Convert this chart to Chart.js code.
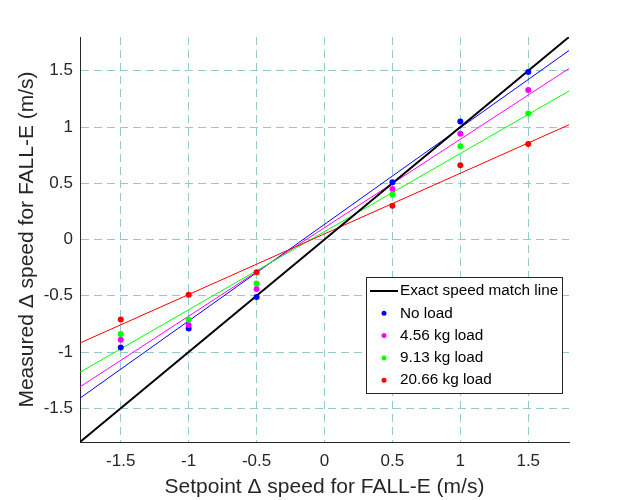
<!DOCTYPE html>
<html>
<head>
<meta charset="utf-8">
<script src="https://cdn.jsdelivr.net/npm/chart.js@4"></script>
<style>
html, body { margin: 0; padding: 0; background: #fff; }
</style>
</head>
<body>
<canvas id="c" width="629" height="500"></canvas>
<script>
// measured points, one value per setpoint
const setpoints = [-1.5, -1, -0.5, 0.5, 1, 1.5];
const noLoad   = [-0.96, -0.79, -0.51, 0.51, 1.05, 1.49];
const load456  = [-0.89, -0.76, -0.44, 0.45, 0.94, 1.33];
const load913  = [-0.84, -0.71, -0.39, 0.40, 0.83, 1.12];
const load2066 = [-0.71, -0.49, -0.29, 0.30, 0.66, 0.85];

// fitted lines, read at the plot edges
const lineEnds  = [-1.8, 1.8];
const exactLine = [-1.8, 1.8];
const fitNoLoad   = [-1.41, 1.68];
const fit456      = [-1.31, 1.52];
const fit913      = [-1.18, 1.32];
const fit2066     = [-0.92, 1.02];

const tickVals = [-1.5, -1, -0.5, 0, 0.5, 1, 1.5];
const exactName = "Exact speed match line";
const seriesNames  = ["No load", "4.56 kg load", "9.13 kg load", "20.66 kg load"];
const seriesColors = ["#0000ff", "#ff00ff", "#00ff00", "#ff0000"];

const pts = (xs, ys) => xs.map((x, i) => ({ x: x, y: ys[i] }));

const pointSets = [noLoad, load456, load913, load2066];
const fitSets   = [fitNoLoad, fit456, fit913, fit2066];

const datasets = [];
fitSets.forEach((f, i) => {
    datasets.push({
        label: "fit " + seriesNames[i],
        data: pts(lineEnds, f),
        showLine: true,
        borderColor: seriesColors[i],
        borderWidth: 1,
        pointRadius: 0,
        order: 10 - i
    });
});
datasets.push({
    label: exactName,
    data: pts(lineEnds, exactLine),
    showLine: true,
    borderColor: "#000000",
    borderWidth: 2,
    pointRadius: 0,
    order: 5
});
pointSets.forEach((p, i) => {
    datasets.push({
        label: seriesNames[i],
        data: pts(setpoints, p),
        showLine: false,
        pointRadius: 3,
        pointBorderWidth: 0,
        pointBackgroundColor: seriesColors[i],
        order: 4 - i
    });
});

const fontFam = "'Liberation Sans', Arial, sans-serif";
const txtColor = "#262626";
const gridColor = "#93cbcb";

// legend box drawn inside the plot, like the MATLAB one
const boxLegend = {
    id: "boxLegend",
    afterDraw(chart) {
        const ctx = chart.ctx;
        const x0 = 366, y0 = 277, w = 196, h = 116;
        const rowH = 22.3, firstRow = 291;
        ctx.save();
        ctx.fillStyle = "#ffffff";
        ctx.fillRect(x0, y0, w, h);
        ctx.strokeStyle = txtColor;
        ctx.lineWidth = 1;
        ctx.strokeRect(x0 + 0.5, y0 + 0.5, w, h);
        ctx.font = "15.3px " + fontFam;
        ctx.textBaseline = "middle";
        ctx.fillStyle = "#000";
        // exact line entry
        ctx.strokeStyle = "#000";
        ctx.lineWidth = 2;
        ctx.beginPath();
        ctx.moveTo(370, firstRow);
        ctx.lineTo(398, firstRow);
        ctx.stroke();
        ctx.fillText(exactName, 400, firstRow);
        seriesNames.forEach((name, i) => {
            const y = firstRow + rowH * (i + 1);
            ctx.fillStyle = seriesColors[i];
            ctx.beginPath();
            ctx.arc(384, y, 2.5, 0, Math.PI * 2);
            ctx.fill();
            ctx.fillStyle = "#000";
            ctx.fillText(name, 400, y);
        });
        ctx.restore();
    }
};

const axisCommon = {
    type: "linear",
    min: -1.8,
    max: 1.8,
    afterBuildTicks: (axis) => { axis.ticks = tickVals.map(v => ({ value: v })); },
    ticks: {
        color: txtColor,
        font: { family: fontFam, size: 17 },
        callback: (v) => String(v)
    },
    grid: {
        color: gridColor,
        lineWidth: 1,
        drawTicks: false
    },
    border: {
        display: true,
        color: txtColor,
        width: 1,
        dash: [8, 5]
    },
    title: {
        display: true,
        color: txtColor,
        font: { family: fontFam, size: 21 }
    }
};

new Chart(document.getElementById("c"), {
    type: "scatter",
    data: { datasets: datasets },
    options: {
        responsive: false,
        animation: false,
        layout: { padding: { left: 0, top: 37, right: 60, bottom: 0 } },
        plugins: {
            legend: { display: false },
            tooltip: { enabled: false }
        },
        scales: {
            x: Object.assign({}, axisCommon, {
                position: "bottom",
                ticks: Object.assign({}, axisCommon.ticks, { padding: 9, maxRotation: 0 }),
                title: Object.assign({}, axisCommon.title, { text: "Setpoint \u0394 speed for FALL-E (m/s)", padding: { top: 0, bottom: 0 } }),
                afterFit: (s) => { s.height = 58; }
            }),
            y: Object.assign({}, axisCommon, {
                position: "left",
                ticks: Object.assign({}, axisCommon.ticks, { padding: 7 }),
                title: Object.assign({}, axisCommon.title, { text: "Measured \u0394 speed for FALL-E (m/s)", padding: { top: 15, bottom: 15 } }),
                afterFit: (s) => { s.width = 80; }
            })
        }
    },
    plugins: [boxLegend]
});
</script>
</body>
</html>
